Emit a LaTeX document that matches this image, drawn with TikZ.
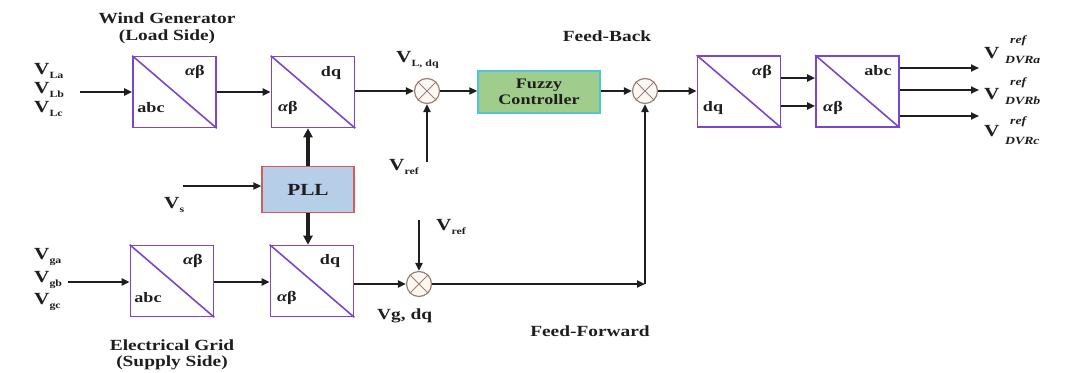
\documentclass[tikz,border=0pt]{standalone}
\usepackage{fontspec}
\setmainfont{Liberation Serif}[FakeStretch=1.25]
\usetikzlibrary{arrows.meta}
\definecolor{convc}{RGB}{125,70,200}
\definecolor{pllfill}{RGB}{182,206,232}
\definecolor{pllborder}{RGB}{215,90,90}
\definecolor{fuzfill}{RGB}{160,205,140}
\definecolor{fuzborder}{RGB}{80,195,215}
\definecolor{sumborder}{RGB}{150,130,120}
\definecolor{sumfill}{RGB}{255,248,240}
\definecolor{txt}{RGB}{30,30,30}
\newcommand{\sbx}[1]{\raisebox{-4pt}{\fontsize{9.5}{10}\selectfont\bfseries #1}}
\begin{document}
\begin{tikzpicture}[x=1pt,y=-1pt,
  every node/.style={text=txt,font=\fontsize{15.5}{17}\selectfont\bfseries},
  conv/.style={draw=convc,line width=1.6pt,minimum width=83pt,minimum height=71pt,inner sep=0pt},
  pllbox/.style={draw=pllborder,fill=pllfill,line width=1.4pt,minimum width=92pt,minimum height=46pt,font=\fontsize{17}{18}\selectfont\bfseries},
  fuzbox/.style={draw=fuzborder,fill=fuzfill,line width=1.4pt,minimum width=122pt,minimum height=42pt,align=center,inner sep=1pt,font=\fontsize{14.5}{15.5}\selectfont\bfseries},
  sum/.style={circle,draw=sumborder,fill=sumfill,line width=1.2pt,minimum size=25pt,inner sep=0pt},
  lab/.style={font=\fontsize{14.5}{15}\selectfont\bfseries,inner sep=0pt},
  vl/.style={anchor=west,inner sep=0pt,font=\fontsize{17}{18}\selectfont\bfseries},
  sml/.style={anchor=west,inner sep=0pt,font=\fontsize{11}{12}\selectfont\bfseries\itshape},
  arr/.style={-{Triangle[length=8pt,width=7pt]},line width=2pt,draw=txt},
  thk/.style={-{Triangle[length=9pt,width=9pt]},line width=3.5pt,draw=txt}]
\useasboundingbox (0,0) rectangle (1067,372);

% converter boxes
\node[conv] (b1) at (174.5,92) {};
\node[conv] (b2) at (313,92) {};
\node[conv] (b3) at (172,281) {};
\node[conv] (b4) at (312,281) {};
\node[conv] (b5) at (739,91.5) {};
\node[conv] (b6) at (857.5,91.5) {};
\foreach \b in {b1,b2,b3,b4,b5,b6}{\draw[convc,line width=1.6pt] (\b.north west) -- (\b.south east);}

% box labels
\node[lab] (b1o) at (195,72) {\itshape α\upshape β};
\node[lab] (b1i) at (151,108) {abc};
\node[lab] (b2o) at (331,73) {dq};
\node[lab] (b2i) at (288,108) {\itshape α\upshape β};
\node[lab] (b3o) at (193,261) {\itshape α\upshape β};
\node[lab] (b3i) at (148,298) {abc};
\node[lab] (b4o) at (330,261) {dq};
\node[lab] (b4i) at (287,298) {\itshape α\upshape β};
\node[lab] (b5o) at (762,72) {\itshape α\upshape β};
\node[lab] (b5i) at (713,108) {dq};
\node[lab] (b6o) at (878,71) {abc};
\node[lab] (b6i) at (833,108) {\itshape α\upshape β};

% PLL and fuzzy
\node[pllbox] (pll) at (308,189.5) {PLL};
\node[fuzbox] (fuz) at (539,92) {Fuzzy\\Controller};

% summing junctions
\node[sum] (s1) at (427,91) {};
\node[sum] (s2) at (645,91) {};
\node[sum] (s3) at (419,284) {};
\foreach \s in {s1,s2,s3}{\draw[sumborder,line width=0.9pt] (\s.45) -- (\s.225) (\s.135) -- (\s.315);}

% coordinates for free ends
\coordinate (inL) at (80,92);
\coordinate (inG) at (68,282);
\coordinate (vs) at (183,186);
\coordinate (vr1) at (427,162);
\coordinate (vr2) at (419,220);
\coordinate (corner) at (645,284);
\coordinate (oa) at (979,68);
\coordinate (ob) at (979,90);
\coordinate (oc) at (979,116);

% connectors
\draw[arr] (inL) -- (inL -| b1.west);
\draw[arr] (b1.east |- b2) -- (b2.west);
\draw[arr] (b2.east |- s1) -- (s1.west);
\draw[arr] (vr1) -- (s1.south);
\draw[arr] (s1.east) -- (fuz.west |- s1);
\draw[arr] (fuz.east |- s2) -- (s2.west);
\draw[arr] (s2.east) -- (b5.west |- s2);
\draw[arr] (b5.east |- 0,78) -- (b6.west |- 0,78);
\draw[arr] (b5.east |- 0,106) -- (b6.west |- 0,106);
\draw[arr] (b6.east |- oa) -- (oa);
\draw[arr] (b6.east |- ob) -- (ob);
\draw[arr] (b6.east |- oc) -- (oc);
\draw[arr] (vs) -- (vs -| pll.west);
\draw[thk] (pll.north) -- (pll.north |- b2.south);
\draw[thk] (pll.south) -- (pll.south |- b4.north);
\draw[arr] (inG) -- (inG -| b3.west);
\draw[arr] (b3.east |- inG) -- (b4.west |- inG);
\draw[arr] (b4.east |- s3) -- (s3.west);
\draw[arr] (vr2) -- (s3.north);
\draw[arr] (s3.east) -- (corner);
\draw[arr] (corner) -- (s2.south);

% texts
\node (wg1) at (167,18) {Wind Generator};
\node (wg2) at (167,37) {(Load Side)};
\node (eg1) at (172,345) {Electrical Grid};
\node (eg2) at (172,363) {(Supply Side)};
\node (fb) at (607,36) {Feed-Back};
\node (ff) at (590,331) {Feed-Forward};

\node[vl] (vla) at (34,71) {V\sbx{La}};
\node[vl] (vlb) at (34,90) {V\sbx{Lb}};
\node[vl] (vlc) at (34,109) {V\sbx{Lc}};
\node[vl] (vga) at (34,257) {V\sbx{ga}};
\node[vl] (vgb) at (34,280) {V\sbx{gb}};
\node[vl] (vgc) at (34,302) {V\sbx{gc}};
\node[vl] (vsl) at (164,205) {V\sbx{s}};
\node[vl] (vld) at (396,60) {V\sbx{L, dq}};
\node[vl] (vrt) at (389,167) {V\sbx{ref}};
\node[vl] (vrb) at (436,227) {V\sbx{ref}};
\node[vl,font=\fontsize{15.5}{17}\selectfont\bfseries] (vgd) at (377,316) {Vg, dq};

\node[vl] (da) at (984,53) {V};
\node[sml] (ra) at (1010,41) {ref};
\node[sml] (ta) at (1005,60) {DVRa};
\node[vl] (db) at (984,94) {V};
\node[sml] (rb) at (1010,83) {ref};
\node[sml] (tb) at (1005,101) {DVRb};
\node[vl] (dc) at (984,131) {V};
\node[sml] (rc) at (1010,122) {ref};
\node[sml] (tc) at (1005,141) {DVRc};
\end{tikzpicture}
\end{document}
